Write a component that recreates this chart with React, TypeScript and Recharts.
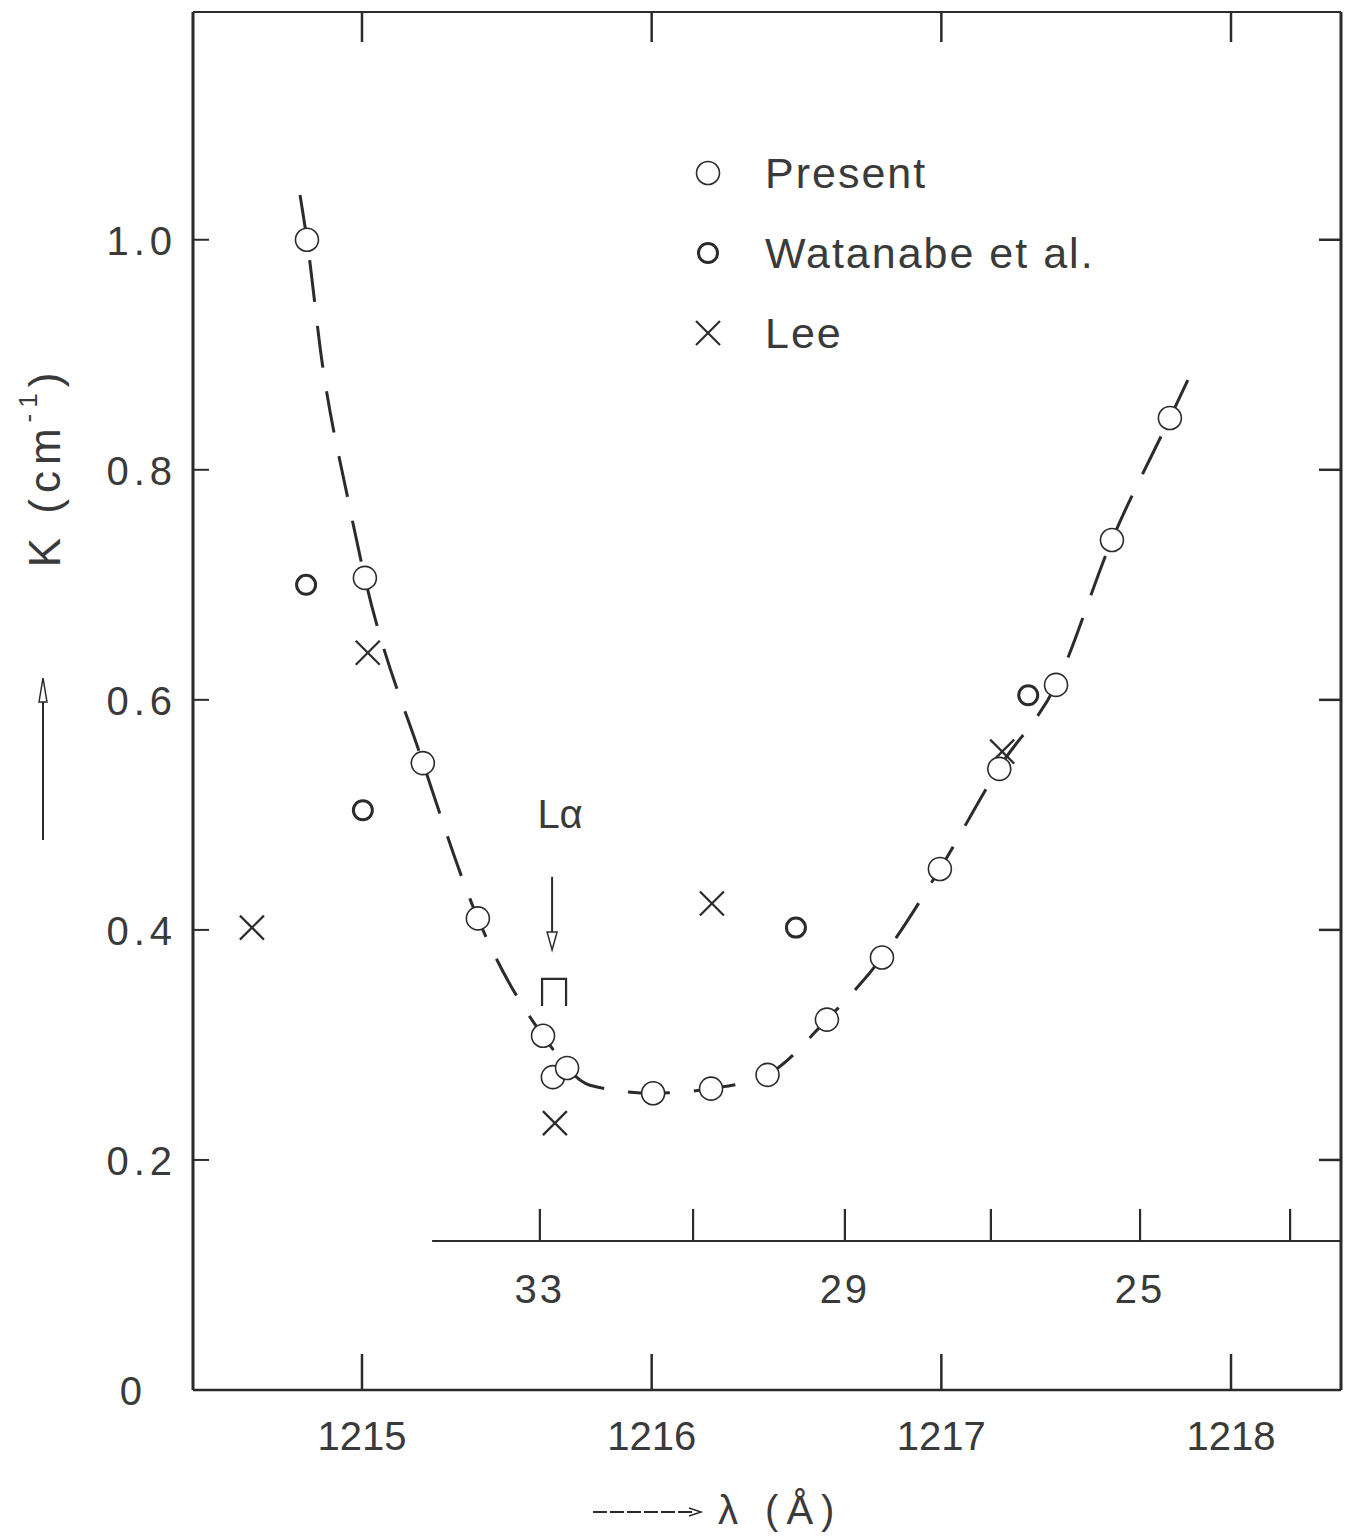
import {
  ScatterChart,
  Scatter,
  XAxis,
  YAxis,
  ReferenceLine,
  ReferenceDot,
  Legend,
} from "recharts";

const lamTicks = [1215, 1216, 1217, 1218];
const kTicks = [0, 0.2, 0.4, 0.6, 0.8, 1.0];
const kTicksRight = [0.2, 0.4, 0.6, 0.8, 1.0];

// present measurements (circles on the curve)
const presentLam = [
  1214.81, 1215.01, 1215.21, 1215.4, 1215.625, 1215.659, 1215.708, 1216.005,
  1216.205, 1216.4, 1216.605, 1216.795, 1216.995, 1217.2, 1217.396, 1217.589,
  1217.789,
];
const presentK = [
  1.0, 0.706, 0.545, 0.41, 0.308, 0.272, 0.28, 0.258, 0.262, 0.274, 0.322,
  0.376, 0.453, 0.54, 0.613, 0.739, 0.845,
];

const watanabeLam = [1214.807, 1215.003, 1216.498, 1217.3];
const watanabeK = [0.7, 0.504, 0.402, 0.604];

const leeLam = [1214.62, 1215.02, 1215.666, 1216.208, 1217.21];
const leeK = [0.402, 0.641, 0.232, 0.423, 0.555];

// dashed fitted curve
const curveLam = [
  1214.786, 1214.81, 1214.862, 1214.952, 1215.01, 1215.211, 1215.4, 1215.625,
  1215.787, 1216.005, 1216.205, 1216.398, 1216.605, 1216.795, 1216.995,
  1217.199, 1217.396, 1217.589, 1217.789, 1217.851,
];
const curveK = [
  1.039, 1.0, 0.894, 0.774, 0.706, 0.545, 0.41, 0.308, 0.265, 0.258, 0.262,
  0.274, 0.322, 0.376, 0.453, 0.541, 0.613, 0.739, 0.845, 0.878,
];

// secondary scale drawn inside the frame
const secValues = [33, 31, 29, 27, 25, 23];
const secLam = [1215.614, 1216.143, 1216.667, 1217.171, 1217.686, 1218.204];
const secAxisK = 0.1296;
const secAxisStart = 1215.242;

const lymanAlpha = 1215.67;

const X_DOMAIN: [number, number] = [1214.4166, 1218.3797];
const Y_DOMAIN: [number, number] = [0, 1.198];

const INK = "#2b2b2b";
const TXT = "#3a3a3a";
const FONT = "'Liberation Sans', Arial, sans-serif";

const zip = (xs: number[], ys: number[]) => xs.map((lam, i) => ({ lam, k: ys[i] }));

const presentData = zip(presentLam, presentK);
const watanabeData = zip(watanabeLam, watanabeK);
const leeData = zip(leeLam, leeK);
const curveData = zip(curveLam, curveK);
const secData = secLam.map((lam, i) => ({ lam, k: secAxisK, v: secValues[i] }));

const BottomTick = ({ x, y, payload }: any) => (
  <g>
    <line x1={x} x2={x} y1={y} y2={y - 36} stroke={INK} strokeWidth={2.5} />
    <text x={x} y={y + 60} textAnchor="middle" fill={TXT} fontSize={40} fontFamily={FONT}>
      {payload.value}
    </text>
  </g>
);

const TopTick = ({ x, y }: any) => (
  <line x1={x} x2={x} y1={y} y2={y + 30} stroke={INK} strokeWidth={2.5} />
);

const LeftTick = ({ x, y, payload }: any) => {
  const v = payload.value;
  return (
    <g>
      {v > 0 && <line x1={x} x2={x + 16} y1={y} y2={y} stroke={INK} strokeWidth={2} />}
      <text
        x={v === 0 ? x - 46 : x - 16}
        y={y + 15}
        textAnchor="end"
        fill={TXT}
        fontSize={40}
        fontFamily={FONT}
        letterSpacing={5}
      >
        {v === 0 ? "0" : v.toFixed(1)}
      </text>
    </g>
  );
};

const RightTick = ({ x, y }: any) => (
  <line x1={x} x2={x - 22} y1={y} y2={y} stroke={INK} strokeWidth={2.5} />
);

const YTitle = (props: any) => {
  const vb = props.viewBox ?? { x: 0, y: 12 };
  const x = vb.x + 44;
  const y = vb.y + 455;
  const ax = vb.x + 43;
  return (
    <g>
      <text
        x={x}
        y={y}
        transform={`rotate(-90 ${x} ${y})`}
        textAnchor="middle"
        dominantBaseline="central"
        fill={TXT}
        fontSize={44}
        fontFamily={FONT}
        letterSpacing={6}
      >
        K (cm
        <tspan fontSize={26} dy={-16}>-1</tspan>
        <tspan fontSize={44} dy={16}>)</tspan>
      </text>
      <line x1={ax} x2={ax} y1={vb.y + 828} y2={vb.y + 684} stroke={INK} strokeWidth={2} />
      <path
        d={`M${ax - 4},${vb.y + 690} L${ax},${vb.y + 666} L${ax + 4},${vb.y + 690} Z`}
        fill="#fff"
        stroke={INK}
        strokeWidth={1.5}
      />
    </g>
  );
};

const XTitle = (props: any) => {
  const vb = props.viewBox ?? { x: 193, y: 1390 };
  const ay = vb.y + 122;
  return (
    <g>
      <line x1={vb.x + 400} x2={vb.x + 500} y1={ay} y2={ay} stroke={INK} strokeWidth={2} strokeDasharray="14 3" />
      <path
        d={`M${vb.x + 496},${ay - 4} L${vb.x + 508},${ay} L${vb.x + 496},${ay + 4}`}
        fill="none"
        stroke={INK}
        strokeWidth={1.5}
      />
      <text x={vb.x + 525} y={vb.y + 134} fill={TXT} fontSize={40} fontFamily={FONT} letterSpacing={8}>
        λ (Å)
      </text>
    </g>
  );
};

const PresentDot = ({ cx, cy }: any) => (
  <circle cx={cx} cy={cy} r={11.5} fill="#fff" stroke={INK} strokeWidth={1.6} />
);

const WatanabeDot = ({ cx, cy }: any) => (
  <circle cx={cx} cy={cy} r={9.5} fill="#fff" stroke={INK} strokeWidth={3} />
);

const LeeCross = ({ cx, cy }: any) => (
  <g stroke={INK} strokeWidth={2.2}>
    <line x1={cx - 12} y1={cy - 12} x2={cx + 12} y2={cy + 12} />
    <line x1={cx - 12} y1={cy + 12} x2={cx + 12} y2={cy - 12} />
  </g>
);

const SecTick = ({ cx, cy, payload }: any) => (
  <g>
    <line x1={cx} x2={cx} y1={cy} y2={cy - 32} stroke={INK} strokeWidth={2.2} />
    {payload.v % 4 === 1 && (
      <text x={cx} y={cy + 62} textAnchor="middle" fill={TXT} fontSize={40} fontFamily={FONT} letterSpacing={3}>
        {payload.v}
      </text>
    )}
  </g>
);

const LymanMark = ({ cx, cy }: any) => (
  <g>
    <text x={cx + 4} y={cy - 102} textAnchor="middle" fill={TXT} fontSize={40} fontFamily={FONT}>
      Lα
    </text>
    <line x1={cx - 4} x2={cx - 4} y1={cy - 53} y2={cy + 6} stroke={INK} strokeWidth={2} />
    <path
      d={`M${cx - 9},${cy + 2} L${cx - 4},${cy + 20} L${cx + 1},${cy + 2} Z`}
      fill="#fff"
      stroke={INK}
      strokeWidth={1.5}
    />
    <path
      d={`M${cx - 14},${cy + 76} V${cy + 49} H${cx + 10} V${cy + 76}`}
      fill="none"
      stroke={INK}
      strokeWidth={2.2}
    />
  </g>
);

const legendItems = [
  { name: "Present", icon: "present" },
  { name: "Watanabe et al.", icon: "watanabe" },
  { name: "Lee", icon: "lee" },
];

const LegendBox = () => (
  <div style={{ fontFamily: FONT, fontSize: 43, color: TXT, letterSpacing: 2 }}>
    {legendItems.map((it) => (
      <div key={it.name} style={{ display: "flex", alignItems: "center", height: 80 }}>
        <svg width={36} height={36}>
          {it.icon === "present" && <circle cx={18} cy={18} r={11.5} fill="#fff" stroke={INK} strokeWidth={1.6} />}
          {it.icon === "watanabe" && <circle cx={18} cy={18} r={9.5} fill="#fff" stroke={INK} strokeWidth={3} />}
          {it.icon === "lee" && (
            <g stroke={INK} strokeWidth={2.2}>
              <line x1={6} y1={6} x2={30} y2={30} />
              <line x1={6} y1={30} x2={30} y2={6} />
            </g>
          )}
        </svg>
        <span style={{ marginLeft: 39 }}>{it.name}</span>
      </div>
    ))}
  </div>
);

export default function App() {
  return (
    <div style={{ position: "absolute", left: 0, top: 0, width: 1349, height: 1540, background: "#fff" }}>
      <ScatterChart width={1349} height={1540} margin={{ top: 0, right: 0, bottom: 0, left: 0 }}>
        <XAxis
          type="number"
          dataKey="lam"
          domain={X_DOMAIN}
          ticks={lamTicks}
          interval={0}
          allowDataOverflow
          height={150}
          axisLine={{ stroke: INK, strokeWidth: 2.5 }}
          tickLine={false}
          tickSize={0}
          tickMargin={0}
          tick={<BottomTick />}
          label={{ content: XTitle }}
        />
        <XAxis
          xAxisId="top"
          orientation="top"
          type="number"
          dataKey="lam"
          domain={X_DOMAIN}
          ticks={lamTicks}
          interval={0}
          allowDataOverflow
          height={12}
          axisLine={{ stroke: INK, strokeWidth: 2 }}
          tickLine={false}
          tickSize={0}
          tickMargin={0}
          tick={<TopTick />}
        />
        <YAxis
          type="number"
          dataKey="k"
          domain={Y_DOMAIN}
          ticks={kTicks}
          interval={0}
          allowDataOverflow
          width={193}
          axisLine={{ stroke: INK, strokeWidth: 3 }}
          tickLine={false}
          tickSize={0}
          tickMargin={0}
          tick={<LeftTick />}
          label={{ content: YTitle }}
        />
        <YAxis
          yAxisId="right"
          orientation="right"
          type="number"
          dataKey="k"
          domain={Y_DOMAIN}
          ticks={kTicksRight}
          interval={0}
          allowDataOverflow
          width={8}
          axisLine={{ stroke: INK, strokeWidth: 3 }}
          tickLine={false}
          tickSize={0}
          tickMargin={0}
          tick={<RightTick />}
        />
        <ReferenceLine
          segment={[
            { x: secAxisStart, y: secAxisK },
            { x: X_DOMAIN[1], y: secAxisK },
          ]}
          stroke={INK}
          strokeWidth={2}
        />
        <Scatter
          name="secondary"
          data={secData}
          shape={<SecTick />}
          isAnimationActive={false}
          legendType="none"
        />
        <Scatter
          name="curve"
          data={curveData}
          line={{ stroke: INK, strokeWidth: 3, strokeDasharray: "42 24" }}
          lineJointType="monotoneX"
          shape={() => <g />}
          isAnimationActive={false}
          legendType="none"
        />
        <ReferenceDot x={lymanAlpha} y={0.4} shape={(p: any) => <LymanMark {...p} />} />
        <Scatter name="Lee" data={leeData} shape={<LeeCross />} isAnimationActive={false} />
        <Scatter name="Watanabe et al." data={watanabeData} shape={<WatanabeDot />} isAnimationActive={false} />
        <Scatter name="Present" data={presentData} shape={<PresentDot />} isAnimationActive={false} />
        <Legend
          layout="vertical"
          align="center"
          verticalAlign="middle"
          content={<LegendBox />}
          wrapperStyle={{ position: "absolute", left: 690, top: 133, width: 420, height: 240 }}
        />
      </ScatterChart>
    </div>
  );
}
